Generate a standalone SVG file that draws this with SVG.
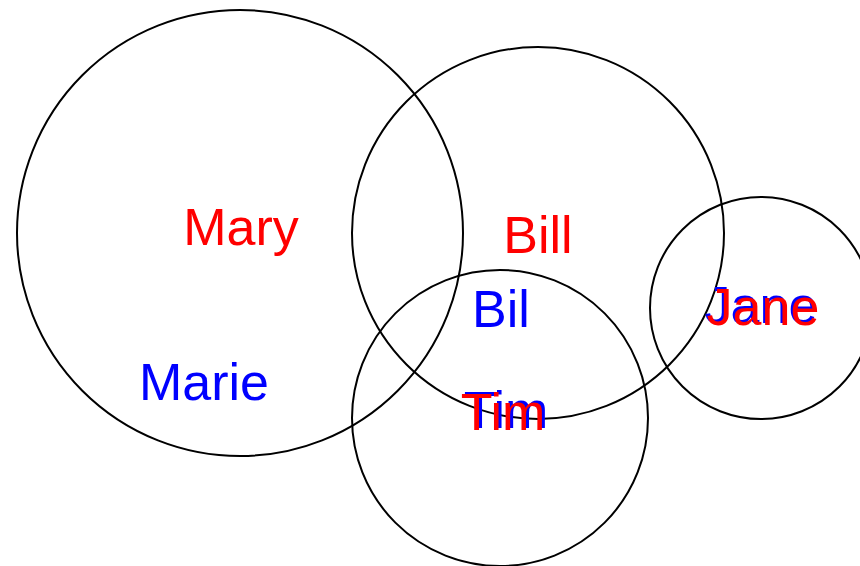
<svg xmlns="http://www.w3.org/2000/svg" width="860" height="566" viewBox="0 0 860 566">
<style>
circle{fill:none;stroke:#000;stroke-width:2}
text{font-family:"Liberation Sans",Arial,sans-serif;font-size:52px;text-anchor:middle}
.r{fill:#f00}.b{fill:#00f}
</style>
<rect width="860" height="566" fill="#fff"/>
<g id="circles">
<circle cx="240" cy="233" r="223"/>
<circle cx="538" cy="233" r="186"/>
<circle cx="500" cy="418" r="148"/>
<circle cx="761" cy="308" r="111"/>
</g>
<g id="labels">
<text class="r" x="241" y="245">Mary</text>
<text class="b" x="204" y="400">Marie</text>
<text class="r" x="538" y="253">Bill</text>
<text class="b" x="501" y="327">Bil</text>
<text class="b" x="506" y="428">Tim</text>
<text class="r" x="503" y="430">Tim</text>
<text class="b" x="761" y="323">Jane</text>
<text class="r" x="763" y="325">Jane</text>
</g>
</svg>
